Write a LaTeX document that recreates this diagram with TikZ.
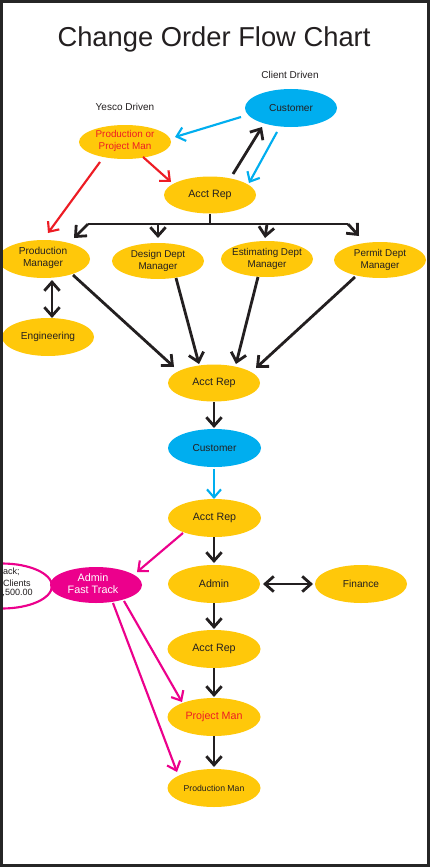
\documentclass[tikz,border=0pt]{standalone}
\usepackage{fontspec}
\setmainfont{Liberation Sans}
\usetikzlibrary{shapes.geometric,arrows.meta,calc}
\definecolor{yel}{HTML}{FFC80A}
\definecolor{cyn}{HTML}{00AEEF}
\definecolor{mag}{HTML}{EC008C}
\definecolor{rd}{HTML}{ED1C24}
\definecolor{ink}{HTML}{231F20}
\definecolor{frm}{HTML}{262626}
\begin{document}
\begin{tikzpicture}[x=0.75pt,y=-0.75pt,
  ell/.style={ellipse, inner sep=0pt, minimum width=69pt, minimum height=28.5pt, fill=yel},
  lbl/.style={inner sep=0pt, align=center, font=\fontsize{7.6}{9}\selectfont, text=ink},
  blk/.style={draw=ink, line width=2.1pt, -{Straight Barb[length=6.5pt,width=11.5pt]}},
  blkboth/.style={draw=ink, line width=2.1pt, {Straight Barb[length=6.5pt,width=11.5pt]}-{Straight Barb[length=6.5pt,width=11.5pt]}},
  blu/.style={draw=cyn, line width=1.6pt, -{Straight Barb[length=6pt,width=10.5pt]}},
  red/.style={draw=rd, line width=1.6pt, -{Straight Barb[length=6pt,width=10.5pt]}},
  mg/.style={draw=mag, line width=1.6pt, -{Straight Barb[length=6pt,width=10.5pt]}}
]
\useasboundingbox (0,0) rectangle (430,867);
\fill[frm] (0,0) rectangle (430,867);
\fill[white] (3,3) rectangle (427,864);
\begin{scope}
\clip (3,3) rectangle (427,864);

% title and captions
\node[anchor=base, inner sep=0pt, font=\fontsize{20.5}{24}\selectfont, text=ink] (title) at (214,47) {Change Order Flow Chart};
\node[lbl, font=\fontsize{7.5}{9}\selectfont] (client) at (290,75) {Client Driven};
\node[lbl, font=\fontsize{7.5}{9}\selectfont] (yesco) at (125,107) {Yesco Driven};

% ellipses
\node[ell, fill=cyn] (cust1) at (291,108) {};
\node[lbl] (cust1t) at (cust1) {Customer};
\node[ell, minimum height=25.5pt] (ppm) at (125,142) {};
\node[lbl, text=rd, font=\fontsize{7.4}{9}\selectfont] (ppmt) at (125,141) {Production or\\Project Man};
\node[ell, minimum height=27.75pt] (ar1) at (210,195) {};
\node[lbl, font=\fontsize{8}{9}\selectfont] (ar1t) at (ar1) {Acct Rep};

\node[ell] (pm) at (44,259) {};
\node[lbl] (pmt) at (43,258) {Production\\Manager};
\node[ell, minimum height=27pt] (dd) at (158,261) {};
\node[lbl, font=\fontsize{7.4}{9}\selectfont] (ddt) at (dd) {Design Dept\\Manager};
\node[ell, minimum height=27pt] (ed) at (267,259) {};
\node[lbl, font=\fontsize{7.4}{9}\selectfont] (edt) at (ed) {Estimating Dept\\Manager};
\node[ell, minimum height=27pt] (pd) at (380,260) {};
\node[lbl, font=\fontsize{7.4}{9}\selectfont] (pdt) at (pd) {Permit Dept\\Manager};
\node[ell] (eng) at (48,337) {};
\node[lbl] (engt) at (eng) {Engineering};

\node[ell, minimum height=27.75pt] (ar2) at (214,383) {};
\node[lbl, font=\fontsize{8}{9}\selectfont] (ar2t) at (ar2) {Acct Rep};
\node[ell, fill=cyn, minimum width=69.75pt] (cust2) at (214.5,448) {};
\node[lbl] (cust2t) at (cust2) {Customer};
\node[ell, minimum width=69.75pt] (ar3) at (214.5,518) {};
\node[lbl, font=\fontsize{8}{9}\selectfont] (ar3t) at (ar3) {Acct Rep};
\node[ell] (admin) at (214,584) {};
\node[lbl, font=\fontsize{8}{9}\selectfont] (admint) at (admin) {Admin};
\node[ell] (fin) at (361,584) {};
\node[lbl] (fint) at (fin) {Finance};

% fast track (clipped at the frame)
\node[ellipse, draw=mag, line width=1.6pt, fill=white, inner sep=0pt, minimum width=75pt, minimum height=33.75pt] (ftl) at (2,586) {};
\node[lbl, anchor=east, font=\fontsize{6.8}{8}\selectfont] (ftl1) at (20,572) {rack;};
\node[lbl, anchor=east, font=\fontsize{6.8}{8}\selectfont] (ftl2) at (31,583) {Clients};
\node[lbl, anchor=east, font=\fontsize{6.8}{8}\selectfont] (ftl3) at (33,593) {,500.00};
\node[ell, fill=mag, minimum height=27pt] (aft) at (96,585) {};
\node[lbl, text=white, font=\fontsize{8.1}{9.2}\selectfont] (aftt) at (93,584) {Admin\\Fast Track};

\node[ell, minimum width=69.75pt] (ar4) at (214,649) {};
\node[lbl, font=\fontsize{8}{9}\selectfont] (ar4t) at (ar4) {Acct Rep};
\node[ell, minimum width=69.75pt] (projm) at (214,717) {};
\node[lbl, text=rd, font=\fontsize{8}{9}\selectfont] (projmt) at (projm) {Project Man};
\node[ell, minimum width=69.75pt] (prodm) at (214,788) {};
\node[lbl, font=\fontsize{6.5}{8}\selectfont] (prodmt) at (prodm) {Production Man};

% top connectors
\draw[blu] ($(cust1)+(-50,9)$) -- ($(ppm)+(50,-5)$);
\draw[blu] ($(cust1)+(-14,24)$) -- ($(ar1)+(39,-12)$);
\draw[blk] ($(ar1)+(23,-21)$) -- ($(cust1)+(-29,19)$);
\draw[red] ($(ppm)+(18,15)$) -- ($(ar1)+(-39,-13)$);
\draw[red] ($(ppm)+(-25,20)$) -- ($(pm)+(4,-26)$);

% distribution tree
\coordinate (tl) at ($(ar1)+(-122,29)$);
\coordinate (tr) at ($(ar1)+(138,29)$);
\draw[ink, line width=2.1pt] (ar1.south) -- ($(ar1)+(0,29)$);
\draw[ink, line width=2.1pt] (tl) -- (tr);
\draw[blk] (tl) -- ($(pm)+(30,-21)$);
\draw[blk] (tl -| dd) -- ($(dd)+(0,-23)$);
\draw[blk] (tl -| ed) -- ($(ed)+(-2,-21)$);
\draw[blk] (tr) -- ($(pd)+(-21,-24)$);

\draw[blkboth] ($(pm)+(8,21)$) -- ($(eng)+(4,-19)$);

\draw[blk] ($(pm)+(29,16)$) -- ($(ar2)+(-40,-16)$);
\draw[blk] ($(dd)+(18,17)$) -- ($(ar2)+(-15,-19)$);
\draw[blk] ($(ed)+(-9,18)$) -- ($(ar2)+(22,-19)$);
\draw[blk] ($(pd)+(-25,17)$) -- ($(ar2)+(42,-15)$);

% main column
\draw[blk] ($(ar2)+(0,19)$) -- ($(cust2)+(-0.5,-20)$);
\draw[blu] ($(cust2)+(-0.5,21)$) -- ($(ar3)+(-0.5,-19)$);
\draw[blk] ($(ar3)+(-0.5,19)$) -- ($(admin)+(0,-21)$);
\draw[blkboth] ($(admin)+(49,0)$) -- ($(fin)+(-48,0)$);
\draw[blk] ($(admin)+(0,19)$) -- ($(ar4)+(0,-20)$);
\draw[blk] ($(ar4)+(0,19)$) -- ($(projm)+(0,-20)$);
\draw[blk] ($(projm)+(0,19)$) -- ($(prodm)+(0,-21)$);

% fast track connectors
\draw[mg] ($(ar3)+(-31.5,15)$) -- ($(aft)+(41,-13)$);
\draw[mg] ($(aft)+(28,16)$) -- ($(projm)+(-32,-15)$);
\draw[mg] ($(aft)+(17,18)$) -- ($(prodm)+(-37,-16)$);
\end{scope}
\end{tikzpicture}
\end{document}
